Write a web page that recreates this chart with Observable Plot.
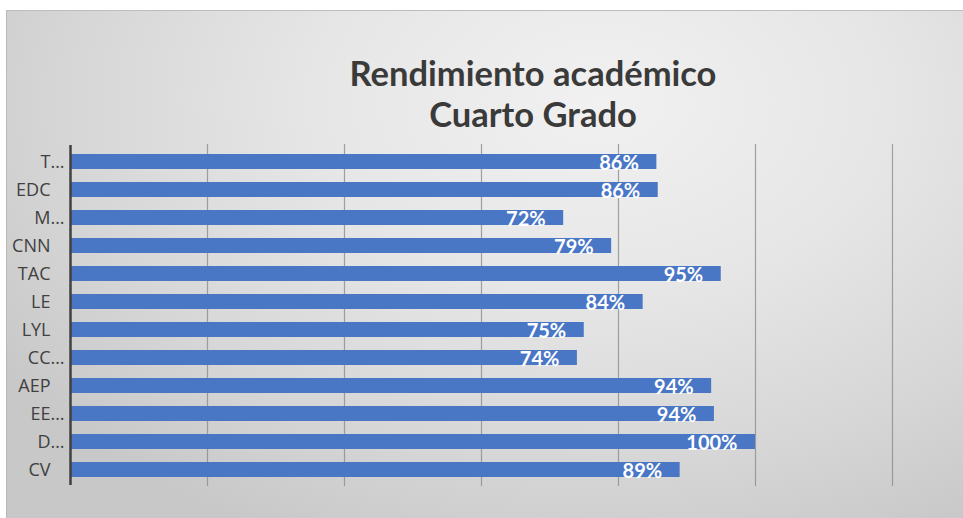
<!DOCTYPE html>
<html>
<head>
<meta charset="utf-8">
<script src="https://cdn.jsdelivr.net/npm/d3@7"></script>
<script src="https://cdn.jsdelivr.net/npm/@observablehq/plot@0.6"></script>
<style>
  html, body { margin: 0; padding: 0; background: #ffffff; }
  #wrap { position: relative; width: 963px; height: 518px; overflow: hidden; background: #ffffff; }
  #panel {
    position: absolute; left: 6px; top: 10px; right: -2px; bottom: -2px;
    border-top: 1px solid #bdbdbd; border-left: 1px solid #b8b8b8;
    background: radial-gradient(ellipse 75% 95% at 62% 18%, #f1f1f1 0%, #e6e6e6 40%, #d6d6d6 75%, #c8c8c8 100%);
  }
  #title {
    position: absolute; left: 233px; width: 600px; top: 52px;
    text-align: center; font-family: Lato, "Open Sans", sans-serif; font-weight: bold;
    font-size: 34.5px; line-height: 41px; color: #3a3a3a;
  }
  #chart { position: absolute; left: 0; top: 0; }
</style>
</head>
<body>
<div id="wrap">
  <div id="panel"></div>
  <div id="title">Rendimiento académico<br>Cuarto Grado</div>
  <div id="chart"></div>
</div>
<script>
const categories = ["T…", "EDC", "M…", "CNN", "TAC", "LE", "LYL", "CC…", "AEP", "EE…", "D…", "CV"];
const values = [0.856, 0.858, 0.72, 0.79, 0.95, 0.836, 0.75, 0.74, 0.936, 0.94, 1.00, 0.89];
const gridTicks = [0.2, 0.4, 0.6, 0.8, 1.0, 1.2];

const data = categories.map((c, i) => ({ cat: c, value: values[i] }));
const fmt = d3.format(".0%");

const chart = Plot.plot({
  width: 963,
  height: 518,
  marginLeft: 70,
  marginRight: 71,
  marginTop: 146,
  marginBottom: 34,
  style: { background: "transparent", overflow: "visible" },
  x: { domain: [0, 1.2], axis: null },
  y: { domain: categories, paddingInner: 0.47, paddingOuter: 0.235, axis: null, label: null },
  marks: [
    Plot.ruleX(gridTicks, { stroke: "#8c8c8c", strokeWidth: 1.2, strokeOpacity: 0.8, inset: -2 }),
    Plot.barX(data, { x: "value", y: "cat", fill: "#4a76c6" }),
    Plot.text(data, {
      x: "value", y: "cat", text: d => fmt(d.value),
      textAnchor: "end", dx: -18, dy: 2,
      fill: "white", fontWeight: "bold", fontSize: 20, fontFamily: "Lato, 'Open Sans', sans-serif"
    }),
    Plot.axisY({
      tickSize: 0, tickPadding: 20, label: null,
      tickFormat: d => d.replace("…", ""),
      fontSize: 18, fill: "#404040", fontFamily: "'Open Sans', sans-serif", textAnchor: "end"
    }),
    Plot.text(categories.filter(c => c.endsWith("…")), {
      x: 0, y: d => d, text: () => "…", textAnchor: "start", dx: -20,
      fontSize: 18, fill: "#404040", fontFamily: "'Open Sans', sans-serif"
    }),
    Plot.ruleX([0], { stroke: "#404040", strokeWidth: 2.5, inset: -1 })
  ]
});
document.getElementById("chart").appendChild(chart);
</script>
</body>
</html>
